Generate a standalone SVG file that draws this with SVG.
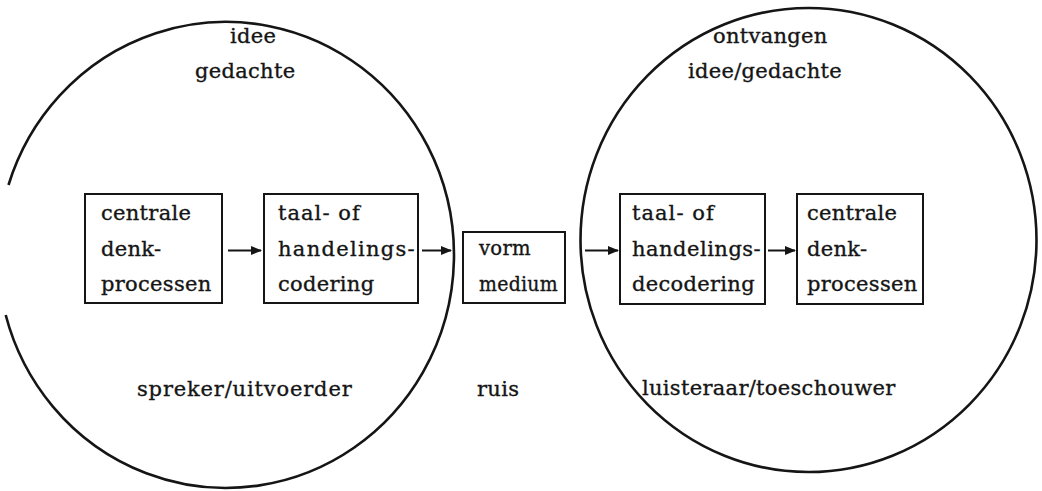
<svg xmlns="http://www.w3.org/2000/svg" width="1042" height="491" viewBox="0 0 1042 491">
  <style>
    .bg { fill: #ffffff; }
    .ring { fill: none; stroke: #151515; stroke-width: 2.6; }
    .box { fill: #ffffff; stroke: #151515; stroke-width: 2; }
    .lbl { font-family: "DejaVu Serif", "Liberation Serif", serif; font-size: 21px; fill: #151515; stroke: #151515; stroke-width: 0.35px; letter-spacing: 0.3px; }
    .wire { stroke: #151515; stroke-width: 2; fill: none; marker-end: url(#head); }
  </style>
  <defs>
    <marker id="head" viewBox="0 0 11 9" refX="10" refY="4.5" markerWidth="11" markerHeight="9" markerUnits="userSpaceOnUse" orient="auto">
      <path d="M0,0 L11,4.5 L0,9 Z" fill="#151515"/>
    </marker>
  </defs>

  <rect class="bg" x="0" y="0" width="1042" height="491"/>

  <!-- sender circle (open on the far left) -->
  <g id="sender">
    <path class="ring" d="M 8.5 185 A 228 233 0 1 1 5.7 315"/>
    <text class="lbl" x="230" y="43">idee</text>
    <text class="lbl" x="195" y="78">gedachte</text>
    <text class="lbl" x="137" y="396" textLength="215">spreker/uitvoerder</text>
  </g>

  <!-- receiver circle -->
  <g id="receiver">
    <ellipse class="ring" cx="808.5" cy="240" rx="228" ry="232"/>
    <text class="lbl" x="713" y="43">ontvangen</text>
    <text class="lbl" x="688" y="78">idee/gedachte</text>
    <text class="lbl" x="642" y="395">luisteraar/toeschouwer</text>
  </g>

  <g id="noise">
    <text class="lbl" x="477" y="396">ruis</text>
  </g>

  <g id="box-think-send">
    <rect class="box" x="85" y="194" width="137" height="109"/>
    <text class="lbl" x="101" y="220">centrale</text>
    <text class="lbl" x="101" y="256">denk-</text>
    <text class="lbl" x="101" y="291">processen</text>
  </g>

  <g id="box-encode">
    <rect class="box" x="264" y="194" width="154" height="109"/>
    <text class="lbl" x="278" y="220" textLength="82">taal- of</text>
    <text class="lbl" x="278" y="256" textLength="137">handelings-</text>
    <text class="lbl" x="278" y="291">codering</text>
  </g>

  <g id="box-medium">
    <rect class="box" x="463" y="232" width="102" height="71"/>
    <text class="lbl" x="479" y="255" textLength="52" lengthAdjust="spacingAndGlyphs">vorm</text>
    <text class="lbl" x="479" y="291" textLength="79" lengthAdjust="spacingAndGlyphs">medium</text>
  </g>

  <g id="box-decode">
    <rect class="box" x="620" y="194" width="145" height="110"/>
    <text class="lbl" x="632" y="220" textLength="82">taal- of</text>
    <text class="lbl" x="632" y="256" textLength="129">handelings-</text>
    <text class="lbl" x="632" y="291">decodering</text>
  </g>

  <g id="box-think-receive">
    <rect class="box" x="797" y="194" width="126" height="110"/>
    <text class="lbl" x="807" y="220">centrale</text>
    <text class="lbl" x="807" y="256">denk-</text>
    <text class="lbl" x="807" y="291">processen</text>
  </g>

  <g id="connectors">
    <line class="wire" x1="228" y1="250.5" x2="261" y2="250.5"/>
    <line class="wire" x1="422" y1="250.5" x2="451" y2="250.5"/>
    <line class="wire" x1="585" y1="250.5" x2="618" y2="250.5"/>
    <line class="wire" x1="768" y1="250.5" x2="795" y2="250.5"/>
  </g>
</svg>
